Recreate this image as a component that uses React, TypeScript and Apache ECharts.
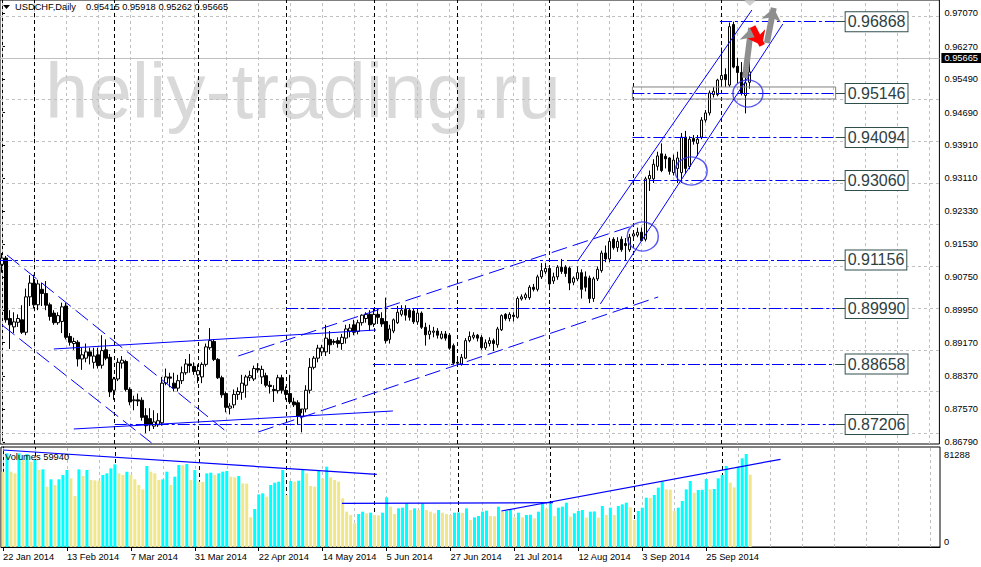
import React, { useEffect, useRef } from "react";
import * as echarts from "echarts";

// ---------- data ----------
const dateLabels = ["22 Jan 2014", "13 Feb 2014", "7 Mar 2014", "31 Mar 2014", "22 Apr 2014", "14 May 2014", "5 Jun 2014", "27 Jun 2014", "21 Jul 2014", "12 Aug 2014", "3 Sep 2014", "25 Sep 2014"];
const LABEL_STEP = 16;
const SLOT_COUNT = 235;

const opens = [0.9105,0.912,0.8975,0.8955,0.8966,0.8972,0.8942,0.9027,0.906,0.9008,0.9045,0.9035,0.9008,0.8988,0.8965,0.8968,0.9005,0.8932,0.8915,0.8918,0.8878,0.888,0.8895,0.887,0.8888,0.8863,0.89,0.8882,0.8803,0.883,0.8868,0.8872,0.8805,0.8778,0.878,0.8779,0.8742,0.8735,0.8717,0.872,0.8725,0.882,0.8835,0.882,0.8808,0.8826,0.8845,0.8866,0.886,0.884,0.8835,0.8865,0.8905,0.892,0.8877,0.8833,0.8795,0.876,0.8768,0.8793,0.8798,0.8815,0.8833,0.883,0.8855,0.8835,0.8838,0.8815,0.8805,0.8802,0.8833,0.8803,0.8795,0.8775,0.8773,0.874,0.8758,0.8803,0.8858,0.888,0.8895,0.8895,0.8925,0.892,0.8922,0.8915,0.8928,0.8945,0.896,0.8944,0.8965,0.8975,0.8985,0.8962,0.8985,0.8975,0.8968,0.8925,0.8945,0.8965,0.8985,0.8997,0.8995,0.8993,0.8967,0.8988,0.8954,0.8937,0.8942,0.8945,0.8928,0.8938,0.8935,0.891,0.887,0.8866,0.888,0.8922,0.893,0.8935,0.893,0.8905,0.8915,0.8922,0.8912,0.8948,0.8985,0.8975,0.8983,0.8978,0.9022,0.9025,0.9025,0.905,0.9045,0.9075,0.9087,0.9095,0.9065,0.9075,0.9098,0.9098,0.9096,0.9062,0.907,0.9085,0.9075,0.9072,0.9023,0.907,0.909,0.9132,0.9118,0.9165,0.9145,0.9165,0.9155,0.914,0.9173,0.9175,0.9182,0.9165,0.931,0.931,0.934,0.937,0.9364,0.936,0.9325,0.9335,0.9325,0.941,0.934,0.9407,0.9395,0.941,0.9451,0.9468,0.9512,0.9512,0.9548,0.956,0.9535,0.968,0.958,0.9565,0.951,0.95415];
const highs = [0.9132,0.9125,0.8995,0.899,0.8985,0.9007,0.9047,0.9079,0.908,0.9068,0.906,0.9065,0.9013,0.8995,0.899,0.9013,0.9013,0.894,0.8929,0.8923,0.8905,0.8915,0.8905,0.8905,0.8905,0.8935,0.8925,0.889,0.8835,0.888,0.8885,0.8876,0.881,0.879,0.8795,0.8786,0.876,0.876,0.8755,0.8748,0.8835,0.8855,0.8845,0.8845,0.884,0.886,0.8878,0.889,0.887,0.8865,0.887,0.8915,0.8952,0.8925,0.888,0.8838,0.88,0.8772,0.8805,0.881,0.884,0.884,0.885,0.8862,0.8868,0.8862,0.8845,0.8825,0.8815,0.884,0.884,0.8812,0.884,0.8785,0.8779,0.8748,0.8815,0.888,0.8885,0.8912,0.8912,0.896,0.8945,0.8925,0.893,0.8938,0.896,0.8962,0.8972,0.8972,0.8985,0.899,0.8995,0.8998,0.8998,0.899,0.9025,0.896,0.8975,0.9005,0.9007,0.9007,0.9,0.9,0.8998,0.8992,0.8965,0.896,0.8955,0.8952,0.8945,0.8945,0.894,0.8915,0.888,0.889,0.8928,0.8944,0.8942,0.8938,0.8935,0.8925,0.893,0.8927,0.8955,0.8985,0.8988,0.899,0.899,0.9028,0.9033,0.9037,0.9055,0.9058,0.908,0.9108,0.9108,0.9098,0.9085,0.9103,0.9118,0.9103,0.91,0.9076,0.91,0.9093,0.9088,0.9078,0.9075,0.91,0.9138,0.915,0.9168,0.917,0.917,0.9172,0.9168,0.9178,0.9183,0.9193,0.9193,0.9315,0.933,0.9357,0.9375,0.9395,0.937,0.9362,0.9368,0.9375,0.942,0.9425,0.9412,0.9415,0.9415,0.9458,0.9475,0.9522,0.953,0.955,0.9625,0.9575,0.9685,0.9687,0.96,0.959,0.9555,0.95918];
const lows = [0.9085,0.8965,0.8902,0.894,0.8955,0.8938,0.8935,0.9005,0.8999,0.8995,0.9005,0.8995,0.897,0.896,0.896,0.894,0.8925,0.891,0.89,0.886,0.8852,0.887,0.8865,0.8855,0.8855,0.8855,0.8875,0.8787,0.878,0.8825,0.8855,0.88,0.8767,0.8755,0.8765,0.873,0.87,0.8705,0.871,0.8715,0.8718,0.8815,0.881,0.88,0.88,0.8818,0.884,0.8845,0.884,0.882,0.882,0.886,0.89,0.8873,0.883,0.8785,0.875,0.8745,0.876,0.878,0.878,0.8785,0.8825,0.8825,0.8845,0.8818,0.881,0.8795,0.8775,0.8795,0.8795,0.878,0.877,0.8763,0.872,0.8702,0.875,0.8795,0.8853,0.887,0.8885,0.8885,0.889,0.8912,0.8905,0.89,0.8915,0.893,0.8935,0.8937,0.8958,0.8965,0.8945,0.8955,0.8962,0.8955,0.8915,0.8915,0.894,0.8962,0.898,0.897,0.897,0.8962,0.896,0.895,0.891,0.8925,0.893,0.8927,0.8925,0.8922,0.89,0.8863,0.886,0.8862,0.8878,0.8918,0.8925,0.892,0.89,0.89,0.8908,0.8897,0.8905,0.8945,0.897,0.8968,0.8968,0.8975,0.9018,0.902,0.902,0.904,0.904,0.907,0.9082,0.9043,0.9058,0.9068,0.9082,0.9075,0.9043,0.9055,0.9065,0.9023,0.904,0.9012,0.9015,0.9065,0.9085,0.911,0.911,0.914,0.9135,0.9135,0.9115,0.9135,0.9168,0.917,0.916,0.916,0.9281,0.93,0.933,0.9326,0.9335,0.932,0.9318,0.93,0.93,0.9322,0.9333,0.9392,0.9365,0.9405,0.9445,0.9462,0.9505,0.9508,0.954,0.953,0.953,0.9575,0.954,0.951,0.9467,0.95262];
const closes = [0.912,0.8972,0.896,0.8967,0.8975,0.8942,0.9027,0.906,0.9008,0.9058,0.9035,0.9007,0.898,0.8965,0.8982,0.9003,0.893,0.8918,0.892,0.8878,0.8888,0.8895,0.8885,0.8885,0.8862,0.8898,0.888,0.8799,0.883,0.887,0.8875,0.8805,0.8775,0.878,0.8777,0.8738,0.8718,0.872,0.8727,0.873,0.882,0.8835,0.8832,0.8808,0.8826,0.8845,0.8866,0.8862,0.8848,0.885,0.8865,0.8907,0.8922,0.8877,0.8833,0.8792,0.8762,0.8765,0.8793,0.88,0.882,0.8835,0.8838,0.8855,0.8852,0.8853,0.8815,0.8812,0.8802,0.8833,0.8803,0.8793,0.8775,0.8768,0.874,0.8758,0.8803,0.8858,0.888,0.8904,0.8905,0.8928,0.8912,0.8918,0.8915,0.893,0.895,0.8952,0.8942,0.8965,0.8983,0.8985,0.896,0.8985,0.8978,0.8962,0.8922,0.895,0.8972,0.899,0.8995,0.8983,0.8978,0.8967,0.8988,0.8954,0.8936,0.8945,0.8945,0.8935,0.8938,0.8928,0.8904,0.8868,0.8868,0.8882,0.8922,0.8932,0.8935,0.8928,0.8905,0.8917,0.8922,0.8915,0.895,0.8982,0.8975,0.8985,0.898,0.9023,0.9027,0.9032,0.905,0.9045,0.9075,0.909,0.9095,0.9058,0.9075,0.9098,0.9088,0.9083,0.906,0.9072,0.9085,0.9045,0.905,0.9023,0.907,0.9093,0.9132,0.9118,0.916,0.9145,0.916,0.914,0.915,0.917,0.9178,0.9182,0.9162,0.931,0.9318,0.9345,0.9365,0.933,0.9358,0.9328,0.9355,0.936,0.941,0.9335,0.9405,0.94,0.9405,0.9451,0.9468,0.9516,0.952,0.9547,0.9558,0.9548,0.9675,0.9578,0.9565,0.9515,0.954,0.95665];
const volumes = [62490,77697,62490,61107,77697,72167,77144,70784,72167,63872,64425,50047,56130,51429,56130,59724,63872,56959,42305,64425,58895,63872,55577,55300,55024,59724,61107,65254,68572,61107,59724,62490,59724,56130,51429,47835,67190,62490,61107,55577,56130,62490,51429,58342,68019,67743,68849,55577,63872,54194,53918,61107,61660,59724,61107,62490,63042,58342,57789,58895,52812,52535,24609,31521,43687,44517,41752,51429,53365,54194,63872,43134,54747,54194,55024,64425,61107,50600,50047,63042,56959,66637,57789,55577,54194,40369,29309,26544,19632,27374,29309,27927,28480,26544,26268,28480,41200,33460,27370,32070,32630,36220,30690,32070,30690,36220,30690,29310,27930,30690,28480,27370,26540,28480,28700,28300,32070,22400,24610,25710,29310,30140,25710,25500,33460,29310,30140,30690,24610,28480,24610,26540,26800,23780,29310,35670,32070,36220,25710,32630,33460,36770,25160,27930,29860,30690,24330,29310,29500,24330,34010,26540,32630,26540,34010,35390,36770,32900,22400,29860,32630,40920,40700,43130,49220,54190,47830,47600,29860,32630,38160,47830,54750,45070,47280,47500,56410,47830,48110,56960,59720,67190,53360,49490,66640,73550,77140,59940];

const priceTicks = [0.9707, 0.9627, 0.9549, 0.9469, 0.9391, 0.9311, 0.9233, 0.9153, 0.9075, 0.8995, 0.8917, 0.8837, 0.8757, 0.8679];
const volumeTicks = [0, 81288];
const monthStarts = [8, 28, 49, 71, 93, 114, 137, 158, 180];
const levelPrices = [0.96868, 0.95146, 0.94094, 0.9306, 0.91156, 0.8999, 0.88658, 0.87206];
const levelStarts = [179.6, 157.7, 157.7, 156.7, -0.5, 71.1, 92.8, 28.2];
const lastPrice = 0.95665;

// annotations in data space: [barIndex, price]
const dashedTrends = [
  [[1.25, 0.91274], [55.63, 0.87077]],
  [[0, 0.89595], [37.42, 0.86766]],
  [[59.12, 0.88852], [157.66, 0.91969]],
  [[64.11, 0.87029], [164.15, 0.90267]],
];
const solidTrends = [
  [[12.97, 0.8902], [93.55, 0.89475]],
  [[17.96, 0.87101], [97.79, 0.87533]],
  [[144.19, 0.91154], [187.6, 0.97149]],
  [[149.68, 0.90099], [195.33, 0.96813]],
];
const circles = [
  [160.3, 0.91718, 31, 29],
  [172.4, 0.93288, 32, 28],
  [186.6, 0.95147, 30, 27],
];
const volumeTrends = [
  [[0, 80462], [93.55, 60305]],
  [[84.82, 36250], [137.63, 36750]],
  [[124.73, 29862], [194.59, 72747]],
];

const FONT = '"Liberation Sans", Arial, sans-serif';
const BLUE = "#0000ff";
const LEVEL_END = 208.55;
const LEVEL_BOX = 211.05;
const P_MAX = 0.97389;
const P_MIN = 0.86741;
const V_MAX = 82950;

function buildOption() {
  const cats = Array.from({ length: SLOT_COUNT }, (_, i) => String(i));
  const isLabelIdx = (idx: number) => idx % LABEL_STEP === 0 && idx / LABEL_STEP < dateLabels.length;
  const candleData = opens.map((o, i) => [o, closes[i], lows[i], highs[i]]);
  const volData = volumes.map((v, i) => ({
    value: v,
    itemStyle: { color: i > 0 && v > volumes[i - 1] ? "#00ffff" : "#f0e68c" },
  }));
  const verticals: any[] = [];
  for (let i = 0; i < SLOT_COUNT; i += 8) {
    verticals.push({ xAxis: i, lineStyle: { color: "#c0c0c0", type: [3, 3], width: 1 } });
  }
  monthStarts.forEach((m) =>
    verticals.push({ xAxis: m, lineStyle: { color: "#000", type: [4, 3], width: 1 } })
  );

  const priceGrid: any[] = priceTicks.map((p) => ({
    yAxis: p,
    lineStyle: { color: "#c0c0c0", type: [3, 3], width: 1 },
  }));
  priceGrid.push({
    yAxis: lastPrice,
    lineStyle: { color: "#c0c0c0", type: "solid", width: 1 },
    label: {
      show: true,
      position: "end",
      distance: 2,
      formatter: lastPrice.toFixed(5),
      backgroundColor: "#000",
      color: "#fff",
      fontFamily: FONT,
      fontSize: 9.3,
      lineHeight: 9,
      padding: [1, 3, 0, 3],
    },
  });

  const levelData: any[] = [];
  levelPrices.forEach((p, k) => {
    levelData.push([
      { coord: [levelStarts[k], p], lineStyle: { color: BLUE, type: [12, 3, 3, 3], width: 1 } },
      { coord: [LEVEL_END, p] },
    ]);
    levelData.push([
      {
        coord: [LEVEL_END, p],
        name: p.toFixed(5),
        lineStyle: { color: "#2f4f4f", type: "solid", width: 1 },
        label: {
          show: true,
          position: "end",
          distance: 0,
          formatter: "{b}",
          fontFamily: FONT,
          fontSize: 16,
          color: "#2f3f3f",
          borderColor: "#2f4f4f",
          borderWidth: 1,
          backgroundColor: "#fff",
          padding: [2, 2, 1, 2],
        },
      },
      { coord: [LEVEL_BOX, p] },
    ]);
  });

  const helper = (xi: number, yi: number, extra: any) => ({
    type: "line",
    xAxisIndex: xi,
    yAxisIndex: yi,
    data: [],
    symbol: "none",
    silent: true,
    ...extra,
  });

  const series: any[] = [
    helper(2, 0, {
      z: 1,
      markLine: { silent: true, symbol: ["none", "none"], z: 1, label: { show: false }, data: [...priceGrid, ...verticals] },
    }),
    helper(3, 1, {
      z: 1,
      markLine: { silent: true, symbol: ["none", "none"], z: 1, label: { show: false }, data: verticals },
    }),
    {
      type: "candlestick",
      xAxisIndex: 0,
      yAxisIndex: 0,
      data: candleData,
      barWidth: 3,
      z: 3,
      silent: true,
      itemStyle: { color: "#ffffff", color0: "#000000", borderColor: "#000000", borderColor0: "#000000", borderWidth: 1 },
    },
    {
      type: "bar",
      xAxisIndex: 1,
      yAxisIndex: 1,
      data: volData,
      barWidth: 3,
      z: 3,
      silent: true,
    },
    helper(2, 0, {
      z: 4,
      markLine: { silent: true, symbol: ["none", "none"], z: 4, label: { show: false }, data: levelData },
      markArea: {
        silent: true,
        z: 4,
        itemStyle: { color: "rgba(0,0,0,0)", borderColor: "#808080", borderWidth: 1 },
        data: [[{ coord: [157.7, 0.95303] }, { coord: [LEVEL_END, 0.95015] }]],
      },
    }),
    ...dashedTrends.map((seg) => ({
      type: "line",
      xAxisIndex: 2,
      yAxisIndex: 0,
      data: seg,
      symbol: "none",
      silent: true,
      z: 4,
      lineStyle: { color: BLUE, width: 1, type: [16, 6] },
    })),
    ...solidTrends.map((seg) => ({
      type: "line",
      xAxisIndex: 2,
      yAxisIndex: 0,
      data: seg,
      symbol: "none",
      silent: true,
      z: 4,
      lineStyle: { color: BLUE, width: 1, type: "solid" },
    })),
    {
      type: "scatter",
      xAxisIndex: 2,
      yAxisIndex: 0,
      silent: true,
      z: 5,
      data: circles.map((c) => ({ value: [c[0], c[1]], symbolSize: [c[2], c[3]] })),
      symbol: "circle",
      itemStyle: { color: "rgba(0,0,0,0)", borderColor: "#3030f0", borderWidth: 1.4 },
    },
    {
      type: "scatter",
      xAxisIndex: 2,
      yAxisIndex: 0,
      silent: true,
      z: 5,
      data: [[187.1, 0.97365]],
      symbol: "diamond",
      symbolSize: [11, 10],
      itemStyle: { color: "#c4c4c4" },
    },
    helper(2, 0, {
      z: 6,
      markLine: {
        silent: true,
        z: 6,
        symbol: ["none", "arrow"],
        symbolSize: [15, 13],
        label: { show: false },
        data: [
          [{ coord: [185.86, 0.95519], lineStyle: { color: "#8e8e8e", width: 6, type: "solid" } }, { coord: [187.4, 0.96718] }],
          [{ coord: [191.35, 0.96358], lineStyle: { color: "#8e8e8e", width: 6, type: "solid" } }, { coord: [193.06, 0.972] }],
          [{ coord: [187.78, 0.96749], lineStyle: { color: "#ff0000", width: 6, type: "solid" } }, { coord: [190.17, 0.963] }],
        ],
      },
    }),
    ...volumeTrends.map((seg) => ({
      type: "line",
      xAxisIndex: 3,
      yAxisIndex: 1,
      data: seg,
      symbol: "none",
      silent: true,
      z: 4,
      lineStyle: { color: BLUE, width: 1.2, type: "solid" },
    })),
  ];

  return {
    animation: false,
    backgroundColor: "#ffffff",
    grid: [
      { left: -2, right: 41, top: 0, height: 444, show: true, borderColor: "#000", borderWidth: 1, backgroundColor: "rgba(0,0,0,0)" },
      { left: -2, right: 41, top: 447, height: 100, show: true, borderColor: "#000", borderWidth: 1, backgroundColor: "rgba(0,0,0,0)" },
    ],
    xAxis: [
      { type: "category", gridIndex: 0, data: cats, boundaryGap: true, show: false },
      {
        type: "category",
        gridIndex: 1,
        data: cats,
        boundaryGap: true,
        axisLine: { show: true, lineStyle: { color: "#000" } },
        axisTick: { show: true, interval: isLabelIdx, alignWithLabel: true, length: 4, lineStyle: { color: "#000" } },
        axisLabel: {
          interval: isLabelIdx,
          formatter: (_v: string, idx: number) => dateLabels[idx / LABEL_STEP] ?? "",
          align: "left",
          margin: 5,
          fontFamily: FONT,
          fontSize: 9.3,
          color: "#000",
        },
        splitLine: { show: false },
      },
      { type: "value", gridIndex: 0, min: -0.5, max: SLOT_COUNT - 0.5, show: false },
      { type: "value", gridIndex: 1, min: -0.5, max: SLOT_COUNT - 0.5, show: false },
    ],
    yAxis: [
      {
        type: "value",
        gridIndex: 0,
        position: "right",
        min: P_MIN,
        max: P_MAX,
        splitLine: { show: false },
        axisLine: { show: true, lineStyle: { color: "#000" } },
        axisTick: { show: true, customValues: priceTicks, length: 3, lineStyle: { color: "#000" } },
        axisLabel: {
          customValues: priceTicks,
          formatter: (v: number) => v.toFixed(5),
          margin: 5,
          fontFamily: FONT,
          fontSize: 9.3,
          color: "#000",
        },
      },
      {
        type: "value",
        gridIndex: 1,
        position: "right",
        min: 0,
        max: V_MAX,
        splitLine: { show: false },
        axisLine: { show: true, lineStyle: { color: "#000" } },
        axisTick: { show: false },
        axisLabel: {
          customValues: volumeTicks,
          formatter: (v: number) => (v === 0 ? "{b|0}" : "{t|" + String(v) + "}"),
          margin: 4,
          color: "#000",
          fontFamily: FONT,
          fontSize: 9.3,
          rich: {
            t: { padding: [12, 0, 0, 0], fontFamily: FONT, fontSize: 9.3, color: "#000" },
            b: { padding: [0, 0, 10, 0], fontFamily: FONT, fontSize: 9.3, color: "#000" },
          },
        },
      },
    ],
    graphic: [
      {
        type: "text",
        x: 45,
        y: 91,
        z: 0,
        silent: true,
        style: { text: "heliy-trading.ru", fontFamily: FONT, fontSize: 78, fill: "#d9d9d9", verticalAlign: "middle", align: "left" },
      },
      { type: "polygon", z: 10, shape: { points: [[3, 5], [10, 5], [6.5, 9]] }, style: { fill: "#000" } },
      {
        type: "text",
        x: 15,
        y: 7,
        z: 10,
        style: { text: "USDCHF,Daily", fontFamily: FONT, fontSize: 9.3, fill: "#000", verticalAlign: "middle" },
      },
      {
        type: "text",
        x: 86,
        y: 7,
        z: 10,
        style: { text: "0.95415 0.95918 0.95262 0.95665", fontFamily: FONT, fontSize: 9.3, fill: "#000", verticalAlign: "middle" },
      },
      {
        type: "text",
        x: 5,
        y: 457,
        z: 10,
        style: { text: "Volumes 59940", fontFamily: FONT, fontSize: 9.3, fill: "#000", verticalAlign: "middle" },
      },
    ],
    series,
  };
}

export default function App() {
  const ref = useRef<HTMLDivElement>(null);
  useEffect(() => {
    if (!ref.current) return;
    const chart = echarts.init(ref.current, null, { renderer: "svg" });
    chart.setOption(buildOption() as any);
    return () => chart.dispose();
  }, []);
  return (
    <div
      ref={ref}
      style={{ position: "fixed", left: 0, top: 0, width: 981, height: 567, background: "#ffffff" }}
    />
  );
}
